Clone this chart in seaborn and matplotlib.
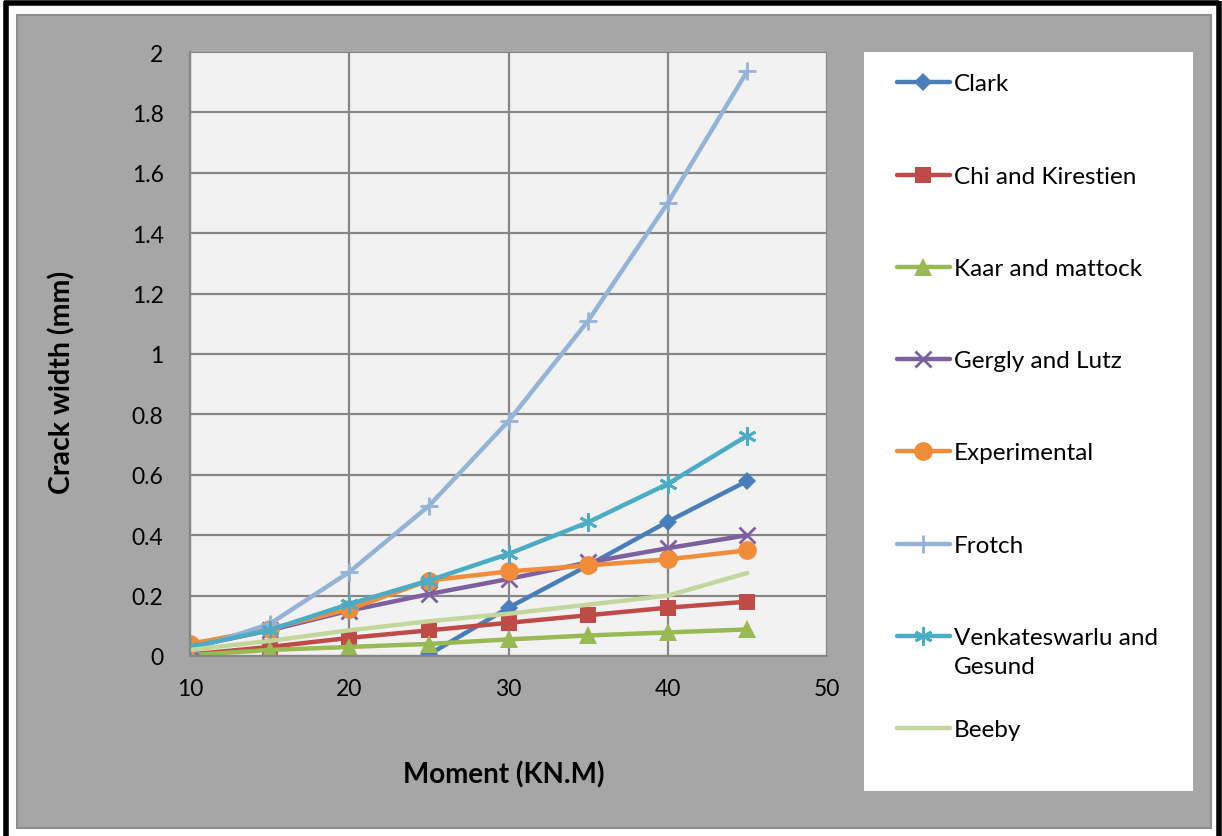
import numpy as np
import pandas as pd
import matplotlib
matplotlib.use("Agg")
import matplotlib.pyplot as plt
from matplotlib.patches import Rectangle
from matplotlib.lines import Line2D
import seaborn as sns

# Crack width (mm) predicted by each method against applied moment (kN.m)
moment = [10, 15, 20, 25, 30, 35, 40, 45]
clark_moment = [20, 25, 30, 35, 40, 45]
clark = [-0.10, 0.005, 0.16, 0.30, 0.445, 0.58]
chi_kirestien = [0.005, 0.03, 0.06, 0.085, 0.11, 0.135, 0.16, 0.18]
kaar_mattock = [0.003, 0.02, 0.03, 0.04, 0.055, 0.068, 0.078, 0.088]
gergly_lutz = [0.03, 0.085, 0.15, 0.205, 0.255, 0.31, 0.357, 0.40]
experimental = [0.04, 0.09, 0.155, 0.25, 0.28, 0.30, 0.32, 0.35]
frotch = [0.02, 0.106, 0.278, 0.497, 0.778, 1.11, 1.50, 1.937]
venkateswarlu = [0.03, 0.086, 0.172, 0.25, 0.338, 0.443, 0.57, 0.73]
beeby = [0.02, 0.05, 0.085, 0.115, 0.14, 0.17, 0.20, 0.275]

x_ticks = [10, 20, 30, 40, 50]
y_ticks = [0, 0.2, 0.4, 0.6, 0.8, 1, 1.2, 1.4, 1.6, 1.8, 2]
y_tick_labels = ["0", "0.2", "0.4", "0.6", "0.8", "1", "1.2", "1.4", "1.6", "1.8", "2"]

series = [
    ("Clark", clark_moment, clark, "#4A7EBB", "D", 9.5, "full"),
    ("Chi and Kirestien", moment, chi_kirestien, "#BE4B48", "s", 11.5, "full"),
    ("Kaar and mattock", moment, kaar_mattock, "#98B954", "^", 12.5, "full"),
    ("Gergly and Lutz", moment, gergly_lutz, "#7D60A0", "x", 11, "none"),
    ("Experimental", moment, experimental, "#F08C3A", "o", 13.5, "full"),
    ("Frotch", moment, frotch, "#95B3D7", "+", 13, "none"),
    ("Venkateswarlu and\nGesund", moment, venkateswarlu, "#4BACC6", (6, 2, 0), 13, "none"),
    ("Beeby", moment, beeby, "#C3D69B", None, 0, "none"),
]

W, H = 1222, 837
sns.set_theme(style="white")
plt.rcParams["font.family"] = ["Lato", "DejaVu Sans"]
plt.rcParams["text.color"] = "black"

fig = plt.figure(figsize=(W / 100, H / 100), dpi=100)
fig.patch.set_facecolor("white")


def fx(px):
    return px / W


def fy(py):
    return 1 - py / H


# Chart area background
fig.patches.append(Rectangle((fx(17), fy(829)), fx(1211) - fx(17), fy(16) - fy(829),
                             transform=fig.transFigure, facecolor="#A6A6A6",
                             edgecolor="#8E8E8E", linewidth=1.5, zorder=0))
# Outer frame lines
for xs, ys in [([4, 1219], [4, 4]), ([6, 6], [2, 837]), ([1219, 1219], [2, 837])]:
    fig.add_artist(Line2D([fx(v) for v in xs], [fy(v) for v in ys],
                          transform=fig.transFigure, color="black", linewidth=4,
                          solid_capstyle="butt"))

# Legend panel
fig.patches.append(Rectangle((fx(864), fy(792)), fx(1193) - fx(864), fy(53) - fy(792),
                             transform=fig.transFigure, facecolor="white",
                             edgecolor="none", zorder=1))

ax = fig.add_axes([fx(190), fy(657), fx(827) - fx(190), fy(53) - fy(657)])
ax.set_zorder(2)
ax.set_facecolor("#F2F2F2")

for name, xs, ys, color, marker, ms, fill in series:
    df = pd.DataFrame({"Moment": xs, "Crack": ys})
    kw = dict(linewidth=3.2, color=color, ax=ax, legend=False)
    if marker is not None:
        kw.update(marker=marker, markersize=ms, markeredgewidth=2 if fill == "none" else 0,
                  markeredgecolor=color)
        if fill == "none":
            kw.update(markerfacecolor=color)
    sns.lineplot(data=df, x="Moment", y="Crack", **kw)

ax.set_xlim(10, 50)
ax.set_ylim(0, 2)
ax.set_xticks(x_ticks)
ax.set_xticklabels([str(v) for v in x_ticks], fontsize=16.5)
ax.set_yticks(y_ticks)
ax.set_yticklabels(y_tick_labels, fontsize=16.5)
ax.grid(True, color="#868686", linewidth=1.6)
ax.set_axisbelow(True)
for side in ["top", "right"]:
    ax.spines[side].set_visible(False)
for side in ["left", "bottom"]:
    ax.spines[side].set_color("#868686")
    ax.spines[side].set_linewidth(1.6)
ax.tick_params(axis="both", which="major", direction="out", length=6, width=1.6,
               color="#868686", labelcolor="black", pad=10)
ax.tick_params(axis="y", pad=13)
ax.set_xlabel("")
ax.set_ylabel("")

fig.text(fx(62), fy(382), "Crack width (mm)", rotation=90, ha="center", va="center",
         fontsize=20.5, fontweight="bold")
fig.text(fx(504), fy(775), "Moment (KN.M)", ha="center", va="center",
         fontsize=20, fontweight="bold")

# Legend entries
entry_y = [83, 176, 268, 360, 452, 545, 637, 729]
for (name, xs, ys, color, marker, ms, fill), py in zip(series, entry_y):
    line = Line2D([fx(897), fx(950)], [fy(py), fy(py)], transform=fig.transFigure,
                  color=color, linewidth=3.2, zorder=3)
    fig.add_artist(line)
    if marker is not None:
        mk = Line2D([fx(923)], [fy(py)], transform=fig.transFigure, color=color,
                    marker=marker, markersize=ms, linestyle="none",
                    markeredgewidth=2 if fill == "none" else 0,
                    markeredgecolor=color, markerfacecolor=color, zorder=4)
        fig.add_artist(mk)
    fig.text(fx(954), fy(py - 9), name, ha="left", va="top", fontsize=17.5,
             linespacing=1.5, zorder=5)

fig.savefig("out.png", dpi=100)
